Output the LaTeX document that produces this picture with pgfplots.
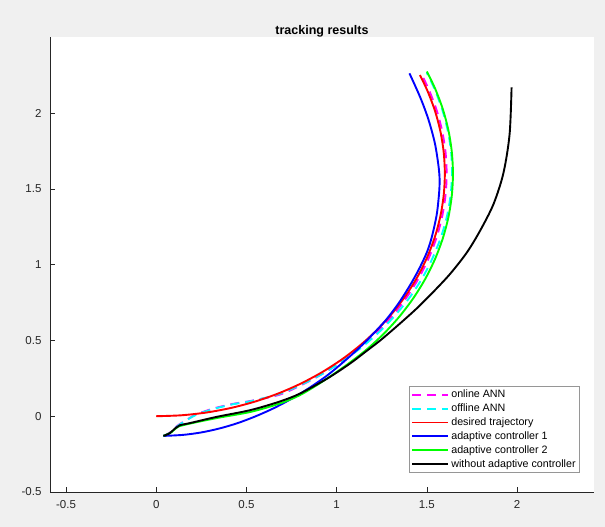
\documentclass[border=0pt]{standalone}
\usepackage{fontspec}
\setmainfont{Liberation Sans}
\usepackage{pgfplots}
\pgfplotsset{compat=1.18}
\definecolor{figbg}{RGB}{240,240,240}
\definecolor{axcol}{RGB}{38,38,38}
\definecolor{legbd}{RGB}{150,150,150}
\definecolor{cMag}{RGB}{255,0,255}
\definecolor{cCya}{RGB}{0,255,255}
\definecolor{cRed}{RGB}{255,0,0}
\definecolor{cBlu}{RGB}{0,0,255}
\definecolor{cGrn}{RGB}{0,255,0}

\begin{document}
\begin{tikzpicture}
\useasboundingbox (0,0) rectangle (605pt,527pt);
\fill[figbg] (0,0) rectangle (605pt,527pt);
\begin{axis}[
    at={(50pt,35pt)}, anchor=south west,
    width=544pt, height=455pt, scale only axis,
    xmin=-0.589, xmax=2.427, ymin=-0.5, ymax=2.502,
    axis x line*=bottom, axis y line*=left,
    axis line style={axcol, line width=0.5pt},
    axis background/.style={fill=white},
    xtick={-0.5,0,0.5,1,1.5,2}, ytick={-0.5,0,0.5,1,1.5,2},
    tick align=inside, major tick length=5pt,
    tick style={axcol, line width=0.5pt},
    /pgf/number format/assume math mode=true,
    ticklabel style={font=\fontsize{11.5}{13}\selectfont, text=axcol},
    xticklabel style={yshift=-5pt},
    yticklabel style={xshift=-5pt},
    title={\textbf{tracking results}},
    title style={font=\fontsize{12.5}{14}\selectfont, anchor=base, at={(0.5,1)}, yshift=-4pt},
    legend style={at={(0.974,0.042)}, anchor=south east, draw=legbd, fill=white,
        font=\fontsize{10.7}{13}\selectfont, inner xsep=2pt, inner ysep=2pt,
        row sep=0.6pt, cells={anchor=west}},
    legend image code/.code={\draw[#1] (0pt,0pt) -- (36pt,0pt);},
    every axis plot/.append style={line width=1.9pt},
]
% online ANN
\addplot[cMag, smooth, dash pattern=on 9pt off 6pt] coordinates {
 (0.040,-0.130) (0.080,-0.105) (0.115,-0.065) (0.160,-0.030) (0.210,0.005)
 (0.250,0.025) (0.330,0.055) (0.429,0.082) (0.520,0.100) (0.6804,0.1408)
 (0.805,0.2057) (0.9235,0.2812) (1.0349,0.3667) (1.1384,0.4616) (1.2333,0.5651)
 (1.3188,0.6765) (1.3943,0.795) (1.4592,0.9196) (1.5129,1.0493) (1.5551,1.1833)
 (1.5855,1.3204) (1.6039,1.4597) (1.61,1.6) (1.6039,1.7403) (1.5855,1.8796)
 (1.5551,2.0167) (1.5129,2.1507) (1.4765,2.242)
};
\addlegendentry{online ANN}
% offline ANN
\addplot[cCya, smooth, dash pattern=on 9pt off 6pt] coordinates {
 (0.040,-0.130) (0.080,-0.108) (0.115,-0.068) (0.160,-0.032) (0.210,0.003)
 (0.250,0.022) (0.330,0.052) (0.429,0.080) (0.520,0.098) (0.6783,0.1454)
 (0.8035,0.2083) (0.9235,0.2812) (1.0362,0.3651) (1.1420,0.4580) (1.2395,0.5600)
 (1.3278,0.6702) (1.4073,0.7875) (1.4755,0.9120) (1.5317,1.0425) (1.5774,1.1773)
 (1.6111,1.3159) (1.6318,1.4572) (1.640,1.6) (1.6348,1.7430) (1.6161,1.8850)
 (1.5851,2.0247) (1.5420,2.1613) (1.4991,2.2675)
};
\addlegendentry{offline ANN}
% desired trajectory
\addplot[cRed, smooth] coordinates {
 (0,0) (0.1395,0.0061) (0.2778,0.0243) (0.4141,0.0545) (0.5472,0.0965)
 (0.6762,0.1499) (0.8,0.2144) (0.9177,0.2894) (1.0285,0.3743) (1.1314,0.4686)
 (1.2257,0.5715) (1.3106,0.6823) (1.3856,0.8) (1.4501,0.9238) (1.5035,1.0528)
 (1.5455,1.1859) (1.5757,1.3222) (1.5939,1.4605) (1.6,1.6) (1.5939,1.7395)
 (1.5757,1.8778) (1.5455,2.0141) (1.5035,2.1472) (1.4617,2.2508)
};
\addlegendentry{desired trajectory}
% adaptive controller 1
\addplot[cBlu, smooth] coordinates {
 (0.040,-0.130) (0.150,-0.123) (0.250,-0.107) (0.350,-0.081) (0.450,-0.046)
 (0.550,-0.001) (0.650,0.052) (0.750,0.115) (0.850,0.188) (0.950,0.271)
 (1.040,0.360) (1.120,0.445) (1.186,0.523) (1.270,0.630)
 (1.343,0.744) (1.405,0.860) (1.454,0.964) (1.500,1.080) (1.528,1.183)
 (1.555,1.330) (1.568,1.470) (1.571,1.560) (1.565,1.650) (1.545,1.800)
 (1.510,1.954) (1.465,2.100) (1.404,2.262)
};
\addlegendentry{adaptive controller 1}
% adaptive controller 2
\addplot[cGrn, smooth] coordinates {
 (0.040,-0.130) (0.085,-0.105) (0.120,-0.070) (0.190,-0.048) (0.336,-0.012)
 (0.521,0.028) (0.680,0.082) (0.798,0.140) (0.930,0.235) (1.0574,0.3398)
 (1.1632,0.4368) (1.2601,0.5426) (1.3475,0.6564) (1.4246,0.7775) (1.4909,0.9048)
 (1.5458,1.0374) (1.5889,1.1742) (1.6200,1.3143) (1.6387,1.4566) (1.645,1.6)
 (1.6387,1.7434) (1.6200,1.8857) (1.5889,2.0258) (1.5458,2.1626) (1.5004,2.2743)
};
\addlegendentry{adaptive controller 2}
% without adaptive controller
\addplot[black, smooth] coordinates {
 (0.040,-0.130) (0.075,-0.112) (0.105,-0.080) (0.130,-0.060) (0.188,-0.045)
 (0.336,-0.004) (0.521,0.040) (0.680,0.095) (0.798,0.150) (0.950,0.250)
 (1.075,0.348) (1.160,0.425) (1.242,0.500) (1.345,0.605) (1.445,0.712)
 (1.540,0.825) (1.630,0.940) (1.722,1.080) (1.796,1.225) (1.870,1.400)
 (1.925,1.605) (1.959,1.860) (1.970,2.170)
};
\addlegendentry{without adaptive controller}
\end{axis}
\end{tikzpicture}
\end{document}
